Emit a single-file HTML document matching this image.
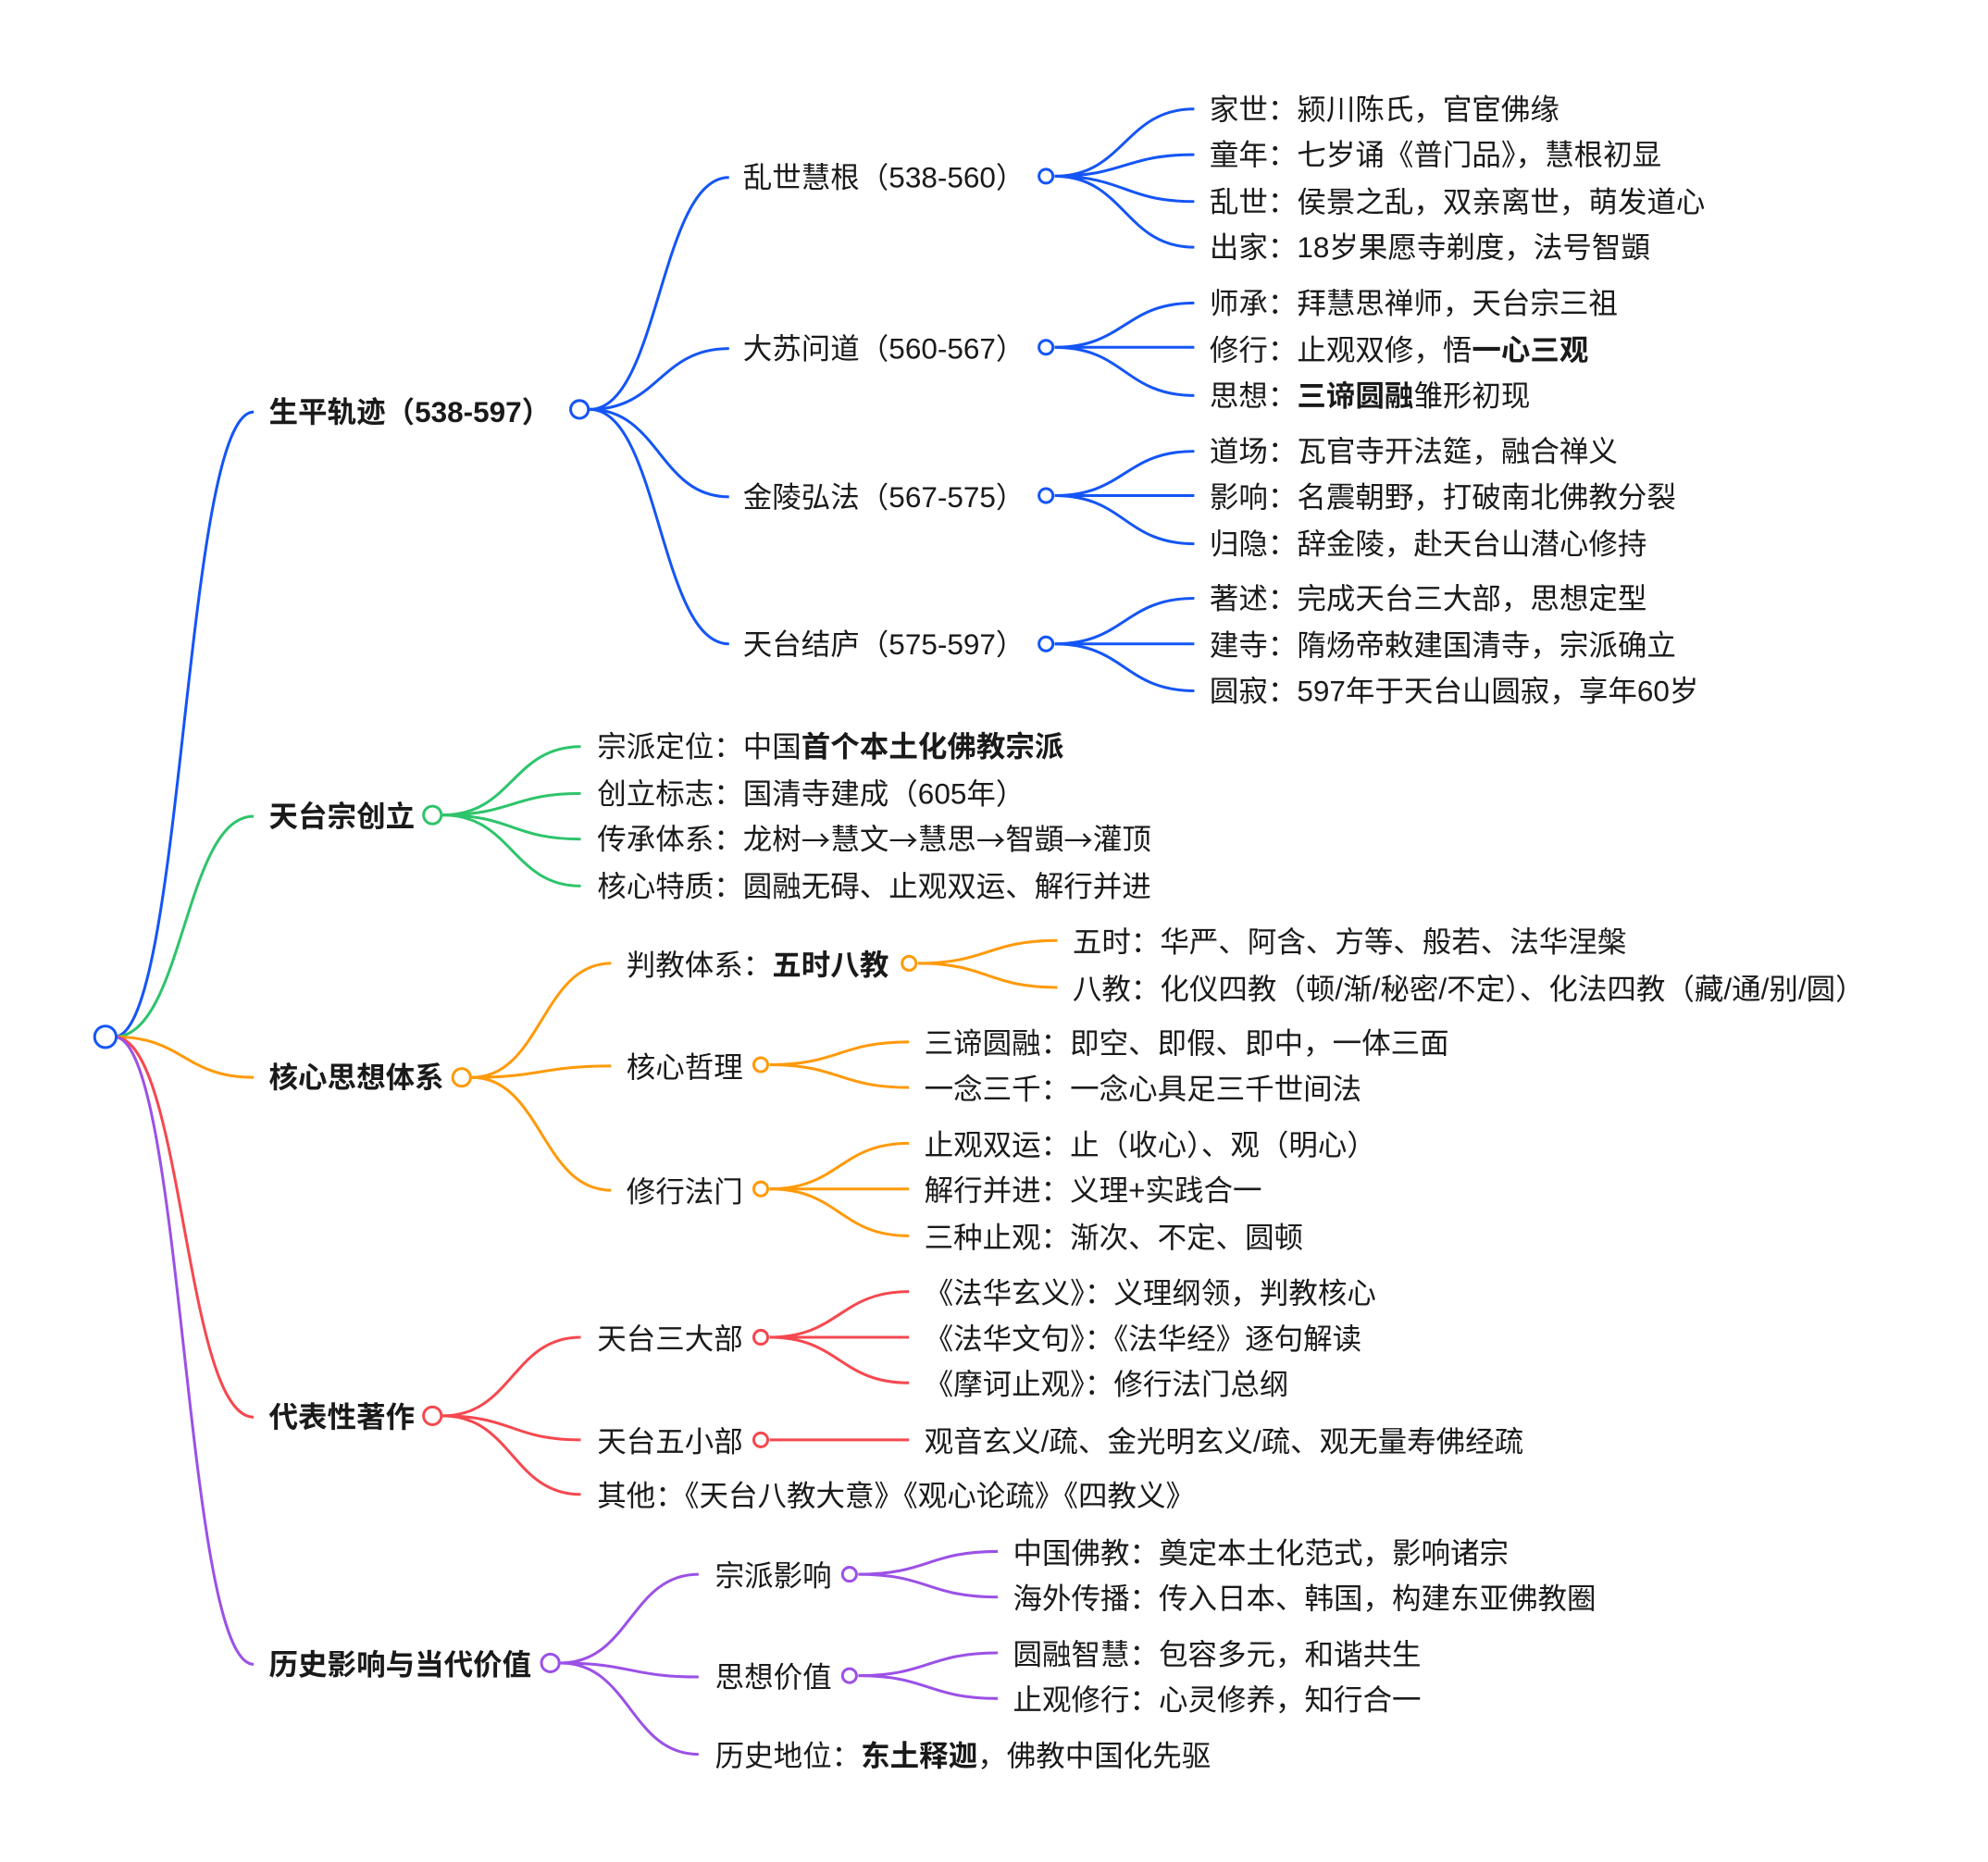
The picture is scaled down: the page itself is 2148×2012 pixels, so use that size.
<!DOCTYPE html>
<html><head><meta charset="utf-8"><style>
html,body{margin:0;padding:0;background:#fff;}
svg{display:block;}
text{font-family:"Liberation Sans","Noto Sans CJK SC",sans-serif;font-size:23px;fill:#1a1a1a;dominant-baseline:central;}
.b{font-weight:700;}
.ar{font-family:"Noto Sans CJK SC",sans-serif;}
path{fill:none;stroke-width:2.2;}
circle{fill:#fff;stroke-width:2.2;}
.bl{stroke:#1455f5;} .gr{stroke:#2ec46b;} .or{stroke:#ff9a0a;} .rd{stroke:#f5484f;} .pu{stroke:#9b51e6;}
</style></head><body>
<svg width="2148" height="2012" viewBox="0 0 1568 1469" xmlns="http://www.w3.org/2000/svg">
<path class="bl" d="M90 818 C145 818,145 325,200 325"/>
<path class="gr" d="M90 818 C145 818,145 644,200 644"/>
<path class="or" d="M90 818 C145 818,145 850,200 850"/>
<path class="rd" d="M90 818 C145 818,145 1118,200 1118"/>
<path class="pu" d="M90 818 C145 818,145 1313,200 1313"/>
<circle class="bl" cx="83" cy="818" r="8.5" stroke-width="2.6"/>

<text x="212" y="325" class="b">生平轨迹（538-597）</text>
<path class="bl" d="M465 323 C520 323,520 140,575 140"/>
<path class="bl" d="M465 323 C520 323,520 275,575 275"/>
<path class="bl" d="M465 323 C520 323,520 392,575 392"/>
<path class="bl" d="M465 323 C520 323,520 508,575 508"/>
<circle class="bl" cx="457" cy="323" r="7"/>
<text x="586" y="140">乱世慧根（538-560）</text>
<text x="586" y="275">大苏问道（560-567）</text>
<text x="586" y="392">金陵弘法（567-575）</text>
<text x="586" y="508">天台结庐（575-597）</text>

<path class="bl" d="M832 139 C887 139,887 86,942 86"/>
<path class="bl" d="M832 139 C887 139,887 122,942 122"/>
<path class="bl" d="M832 139 C887 139,887 159,942 159"/>
<path class="bl" d="M832 139 C887 139,887 195,942 195"/>
<circle class="bl" cx="825" cy="139" r="5.5"/>
<text x="954" y="86">家世：颍川陈氏，官宦佛缘</text>
<text x="954" y="122">童年：七岁诵《普门品》，慧根初显</text>
<text x="954" y="159">乱世：侯景之乱，双亲离世，萌发道心</text>
<text x="954" y="195">出家：18岁果愿寺剃度，法号智顗</text>

<path class="bl" d="M832 274 C887 274,887 239,942 239"/>
<path class="bl" d="M832 274 L942 274"/>
<path class="bl" d="M832 274 C887 274,887 312,942 312"/>
<circle class="bl" cx="825" cy="274" r="5.5"/>
<text x="954" y="239">师承：拜慧思禅师，天台宗三祖</text>
<text x="954" y="276">修行：止观双修，悟<tspan class="b">一心三观</tspan></text>
<text x="954" y="312">思想：<tspan class="b">三谛圆融</tspan>雏形初现</text>

<path class="bl" d="M832 391 C887 391,887 356,942 356"/>
<path class="bl" d="M832 391 L942 391"/>
<path class="bl" d="M832 391 C887 391,887 429,942 429"/>
<circle class="bl" cx="825" cy="391" r="5.5"/>
<text x="954" y="356">道场：瓦官寺开法筵，融合禅义</text>
<text x="954" y="392">影响：名震朝野，打破南北佛教分裂</text>
<text x="954" y="429">归隐：辞金陵，赴天台山潜心修持</text>

<path class="bl" d="M832 508 C887 508,887 472,942 472"/>
<path class="bl" d="M832 508 L942 508"/>
<path class="bl" d="M832 508 C887 508,887 545,942 545"/>
<circle class="bl" cx="825" cy="508" r="5.5"/>
<text x="954" y="472">著述：完成天台三大部，思想定型</text>
<text x="954" y="509">建寺：隋炀帝敕建国清寺，宗派确立</text>
<text x="954" y="545">圆寂：597年于天台山圆寂，享年60岁</text>

<text x="212" y="644" class="b">天台宗创立</text>
<path class="gr" d="M349 643 C404 643,404 589,458 589"/>
<path class="gr" d="M349 643 C404 643,404 626,458 626"/>
<path class="gr" d="M349 643 C404 643,404 662,458 662"/>
<path class="gr" d="M349 643 C404 643,404 699,458 699"/>
<circle class="gr" cx="341" cy="643" r="7"/>
<text x="471" y="589">宗派定位：中国<tspan class="b">首个本土化佛教宗派</tspan></text>
<text x="471" y="626">创立标志：国清寺建成（605年）</text>
<text x="471" y="662">传承体系：龙树<tspan class="ar">→</tspan>慧文<tspan class="ar">→</tspan>慧思<tspan class="ar">→</tspan>智顗<tspan class="ar">→</tspan>灌顶</text>
<text x="471" y="699">核心特质：圆融无碍、止观双运、解行并进</text>

<text x="212" y="850" class="b">核心思想体系</text>
<path class="or" d="M372 850 C427 850,427 760,482 760"/>
<path class="or" d="M372 850 C427 850,427 841,482 841"/>
<path class="or" d="M372 850 C427 850,427 939,482 939"/>
<circle class="or" cx="364" cy="850" r="7"/>
<text x="494" y="761">判教体系：<tspan class="b">五时八教</tspan></text>
<text x="494" y="842">核心哲理</text>
<text x="494" y="940">修行法门</text>

<path class="or" d="M724 760 C779 760,779 742,834 742"/>
<path class="or" d="M724 760 C779 760,779 779,834 779"/>
<circle class="or" cx="717" cy="760" r="5.5"/>
<text x="846" y="743">五时：华严、阿含、方等、般若、法华涅槃</text>
<text x="846" y="780">八教：化仪四教（顿/渐/秘密/不定）、化法四教（藏/通/别/圆）</text>

<path class="or" d="M607 840 C662 840,662 822,717 822"/>
<path class="or" d="M607 840 C662 840,662 858,717 858"/>
<circle class="or" cx="600" cy="840" r="5.5"/>
<text x="729" y="823">三谛圆融：即空、即假、即中，一体三面</text>
<text x="729" y="859">一念三千：一念心具足三千世间法</text>

<path class="or" d="M607 938 C662 938,662 902,717 902"/>
<path class="or" d="M607 938 L717 938"/>
<path class="or" d="M607 938 C662 938,662 975,717 975"/>
<circle class="or" cx="600" cy="938" r="5.5"/>
<text x="729" y="903">止观双运：止（收心）、观（明心）</text>
<text x="729" y="939">解行并进：义理+实践合一</text>
<text x="729" y="976">三种止观：渐次、不定、圆顿</text>

<text x="212" y="1118" class="b">代表性著作</text>
<path class="rd" d="M349 1117 C404 1117,404 1055,458 1055"/>
<path class="rd" d="M349 1117 C404 1117,404 1136,458 1136"/>
<path class="rd" d="M349 1117 C404 1117,404 1179,458 1179"/>
<circle class="rd" cx="341" cy="1117" r="7"/>
<text x="471" y="1056">天台三大部</text>
<text x="471" y="1137">天台五小部</text>
<text x="471" y="1180">其他：《天台八教大意》《观心论疏》《四教义》</text>

<path class="rd" d="M607 1055 C662 1055,662 1019,717 1019"/>
<path class="rd" d="M607 1055 L717 1055"/>
<path class="rd" d="M607 1055 C662 1055,662 1091,717 1091"/>
<circle class="rd" cx="600" cy="1055" r="5.5"/>
<text x="729" y="1020">《法华玄义》：义理纲领，判教核心</text>
<text x="729" y="1056">《法华文句》：《法华经》逐句解读</text>
<text x="729" y="1092">《摩诃止观》：修行法门总纲</text>

<path class="rd" d="M607 1136 L717 1136"/>
<circle class="rd" cx="600" cy="1136" r="5.5"/>
<text x="729" y="1137">观音玄义/疏、金光明玄义/疏、观无量寿佛经疏</text>

<text x="212" y="1313" class="b">历史影响与当代价值</text>
<path class="pu" d="M442 1312 C497 1312,497 1242,551 1242"/>
<path class="pu" d="M442 1312 C497 1312,497 1323,551 1323"/>
<path class="pu" d="M442 1312 C497 1312,497 1384,551 1384"/>
<circle class="pu" cx="434" cy="1312" r="7"/>
<text x="564" y="1243">宗派影响</text>
<text x="564" y="1323">思想价值</text>
<text x="564" y="1385">历史地位：<tspan class="b">东土释迦</tspan>，佛教中国化先驱</text>

<path class="pu" d="M677 1242 C732 1242,732 1224,787 1224"/>
<path class="pu" d="M677 1242 C732 1242,732 1260,787 1260"/>
<circle class="pu" cx="670" cy="1242" r="5.5"/>
<text x="799" y="1225">中国佛教：奠定本土化范式，影响诸宗</text>
<text x="799" y="1261">海外传播：传入日本、韩国，构建东亚佛教圈</text>

<path class="pu" d="M677 1322 C732 1322,732 1304,787 1304"/>
<path class="pu" d="M677 1322 C732 1322,732 1340,787 1340"/>
<circle class="pu" cx="670" cy="1322" r="5.5"/>
<text x="799" y="1305">圆融智慧：包容多元，和谐共生</text>
<text x="799" y="1341">止观修行：心灵修养，知行合一</text>
</svg>
</body></html>
